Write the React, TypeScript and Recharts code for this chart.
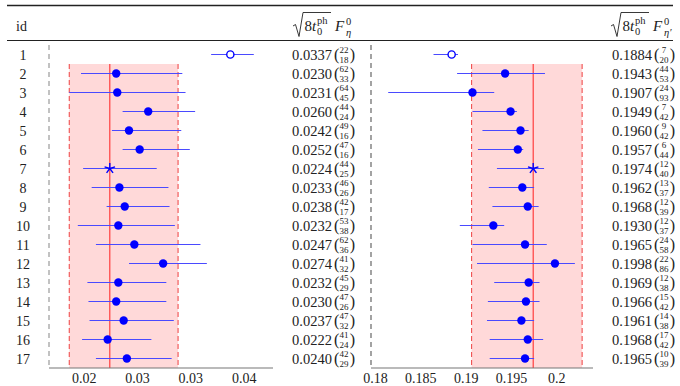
import React from 'react'
import {
  ScatterChart,
  Scatter,
  XAxis,
  YAxis,
  ErrorBar,
  ReferenceArea,
  ReferenceLine,
} from 'recharts'

const FONT = '"Liberation Serif", "Times New Roman", serif'

const ids = [1, 2, 3, 4, 5, 6, 7, 8, 9, 10, 11, 12, 13, 14, 15, 16, 17]

// F_eta^0 column: value and (upper / lower) errors in units of the last digit
const etaVals = [0.0337, 0.023, 0.0231, 0.026, 0.0242, 0.0252, 0.0224, 0.0233, 0.0238, 0.0232, 0.0247, 0.0274, 0.0232, 0.023, 0.0237, 0.0222, 0.024]
const etaUp = [22, 62, 64, 44, 49, 47, 44, 46, 42, 53, 62, 41, 45, 47, 47, 41, 42]
const etaDn = [18, 33, 45, 24, 16, 16, 25, 26, 17, 38, 36, 32, 29, 26, 32, 24, 29]

// F_eta'^0 column
const etapVals = [0.1884, 0.1943, 0.1907, 0.1949, 0.196, 0.1957, 0.1974, 0.1962, 0.1968, 0.193, 0.1965, 0.1998, 0.1969, 0.1966, 0.1961, 0.1968, 0.1965]
const etapUp = [7, 44, 24, 7, 9, 6, 12, 13, 12, 12, 24, 22, 12, 15, 14, 17, 10]
const etapDn = [20, 53, 93, 42, 42, 44, 40, 37, 39, 37, 58, 86, 38, 42, 38, 42, 39]

const openIds = [1]
const starIds = [7]

const etaTicks = [0.02, 0.025, 0.03, 0.035]
const etaTickLabels = ['0.02', '0.03', '0.03', '0.04']
const etapTicks = [0.18, 0.185, 0.19, 0.195, 0.2]
const etapTickLabels = ['0.18', '0.185', '0.19', '0.195', '0.2']

const etaBand = [0.0186, 0.0224, 0.0288]
const etapBand = [0.1906, 0.1974, 0.2028]

const etaDomain = [0.0167, 0.0377]
const etapDomain = [0.1795, 0.204]

function buildRows(vals: number[], up: number[], dn: number[]) {
  return ids.map((id, i) => ({
    id,
    x: vals[i],
    err: [dn[i] * 1e-4, up[i] * 1e-4],
    kind: openIds.includes(id) ? 'open' : starIds.includes(id) ? 'star' : 'dot',
  }))
}

function Marker(props: any) {
  const { cx, cy, payload } = props
  if (cx == null || cy == null) return null
  if (payload.kind === 'open') {
    return <circle cx={cx} cy={cy} r={3.6} fill="#fff" stroke="#0000ff" strokeWidth={1.4} />
  }
  if (payload.kind === 'star') {
    const arms = [0, 1, 2, 3, 4].map(k => {
      const a = (-90 + k * 72) * Math.PI / 180
      return <line key={k} x1={cx} y1={cy} x2={cx + 5.5 * Math.cos(a)} y2={cy + 5.5 * Math.sin(a)} stroke="#0000ff" strokeWidth={1.4} />
    })
    return <g>{arms}</g>
  }
  return <circle cx={cx} cy={cy} r={4.2} fill="#0000ff" />
}

const NoMark = () => <g />

function makeIdTick() {
  return function IdTick(props: any) {
    const { y, payload } = props
    return (
      <text x={23} y={y + 5} textAnchor="middle" fontSize={14} fontFamily={FONT} fill="#222">
        {payload.value}
      </text>
    )
  }
}

function makeValueTick(vals: number[], up: number[], dn: number[], x0: number) {
  return function ValueTick(props: any) {
    const { y, payload } = props
    const i = ids.indexOf(payload.value)
    if (i < 0) return null
    const u = String(up[i])
    const d = String(dn[i])
    const fw = Math.max(u.length, d.length) * 4.6
    const fx = x0 + 47.5 + fw / 2
    return (
      <g fontFamily={FONT} fill="#222">
        <text x={x0} y={y + 5} fontSize={14.5}>{vals[i].toFixed(4)}</text>
        <text x={x0 + 42} y={y + 5} fontSize={16}>(</text>
        <text x={fx} y={y - 1.5} fontSize={9} textAnchor="middle">{u}</text>
        <text x={fx} y={y + 8.5} fontSize={9} textAnchor="middle">{d}</text>
        <text x={x0 + 48.5 + fw} y={y + 5} fontSize={16}>)</text>
      </g>
    )
  }
}

function makeXTick(ticks: number[], labels: string[]) {
  return function XTick(props: any) {
    const { x, payload } = props
    const i = ticks.indexOf(payload.value)
    return (
      <text x={x} y={383} textAnchor="middle" fontSize={14} fontFamily={FONT} fill="#222">
        {i >= 0 ? labels[i] : payload.value}
      </text>
    )
  }
}

interface PanelProps {
  width: number
  leftAxisWidth: number
  rightAxisWidth: number
  vals: number[]
  up: number[]
  dn: number[]
  domain: number[]
  ticks: number[]
  tickLabels: string[]
  band: number[]
  labelX: number
  showIds: boolean
  dashColor: string
}

function Panel(p: PanelProps) {
  const rows = buildRows(p.vals, p.up, p.dn)
  return (
    <ScatterChart width={p.width} height={386} margin={{ top: 45, right: 0, bottom: 0, left: 0 }}>
      <XAxis
        type="number"
        dataKey="x"
        domain={p.domain}
        ticks={p.ticks}
        allowDataOverflow
        height={18}
        tickLine={false}
        tickSize={0}
        axisLine={{ stroke: '#777', strokeWidth: 1.2 }}
        tick={makeXTick(p.ticks, p.tickLabels)}
        interval={0}
      />
      <YAxis
        yAxisId="left"
        type="number"
        dataKey="id"
        domain={[0.5, 17.5]}
        ticks={ids}
        reversed
        interval={0}
        width={p.leftAxisWidth}
        tickLine={false}
        axisLine={{ stroke: p.dashColor, strokeDasharray: '5 4', strokeWidth: 1.2 }}
        tick={p.showIds ? makeIdTick() : false}
      />
      <YAxis
        yAxisId="right"
        orientation="right"
        type="number"
        dataKey="id"
        domain={[0.5, 17.5]}
        ticks={ids}
        reversed
        interval={0}
        width={p.rightAxisWidth}
        tickLine={false}
        axisLine={false}
        tick={makeValueTick(p.vals, p.up, p.dn, p.labelX)}
      />
      <ReferenceArea yAxisId="left" x1={p.band[0]} x2={p.band[2]} y1={1.5} y2={17.5} fill="#ffd9d9" fillOpacity={1} stroke="none" />
      <ReferenceLine
        yAxisId="left"
        segment={[{ x: p.band[0], y: 1.5 }, { x: p.band[0], y: 17.5 }]}
        stroke="#f05050"
        strokeDasharray="5 3"
        strokeWidth={1.1}
      />
      <ReferenceLine
        yAxisId="left"
        segment={[{ x: p.band[2], y: 1.5 }, { x: p.band[2], y: 17.5 }]}
        stroke="#f05050"
        strokeDasharray="5 3"
        strokeWidth={1.1}
      />
      <ReferenceLine
        yAxisId="left"
        segment={[{ x: p.band[1], y: 1.5 }, { x: p.band[1], y: 17.5 }]}
        stroke="#ff3030"
        strokeWidth={1.1}
      />
      <Scatter yAxisId="right" data={rows} shape={NoMark} isAnimationActive={false} />
      <Scatter yAxisId="left" data={rows} shape={Marker} isAnimationActive={false}>
        <ErrorBar dataKey="err" direction="x" width={0} stroke="#4a4aff" strokeWidth={1} isAnimationActive={false} />
      </Scatter>
    </ScatterChart>
  )
}

function Header({ x0, prime }: { x0: number; prime: boolean }) {
  return (
    <g fontFamily={FONT} fill="#222">
      <path
        d={`M ${x0} 26 L ${x0 + 2.5} 24.5 L ${x0 + 6} 36.5 L ${x0 + 10} 12.5 L ${x0 + 38} 12.5`}
        fill="none"
        stroke="#222"
        strokeWidth={0.9}
      />
      <text x={x0 + 11.5} y={31} fontSize={15}>8</text>
      <text x={x0 + 19} y={31} fontSize={15} fontStyle="italic">t</text>
      <text x={x0 + 24} y={24} fontSize={10.5}>ph</text>
      <text x={x0 + 24} y={35} fontSize={10.5}>0</text>
      <text x={x0 + 42} y={31} fontSize={15} fontStyle="italic">F</text>
      <text x={x0 + 53} y={25} fontSize={10.5}>0</text>
      <text x={x0 + 53} y={35.5} fontSize={10.5} fontStyle="italic">{prime ? 'η′' : 'η'}</text>
    </g>
  )
}

export default function App() {
  return (
    <div style={{ position: 'absolute', left: 0, top: 0, width: 680, height: 386, background: '#fff' }}>
      <div style={{ position: 'absolute', left: 0, top: 0 }}>
        <Panel
          width={365}
          leftAxisWidth={49}
          rightAxisWidth={92}
          vals={etaVals}
          up={etaUp}
          dn={etaDn}
          domain={etaDomain}
          ticks={etaTicks}
          tickLabels={etaTickLabels}
          band={etaBand}
          labelX={292}
          showIds
          dashColor="#9a9a9a"
        />
      </div>
      <div style={{ position: 'absolute', left: 340, top: 0 }}>
        <Panel
          width={340}
          leftAxisWidth={31}
          rightAxisWidth={87}
          vals={etapVals}
          up={etapUp}
          dn={etapDn}
          domain={etapDomain}
          ticks={etapTicks}
          tickLabels={etapTickLabels}
          band={etapBand}
          labelX={272}
          showIds={false}
          dashColor="#666"
        />
      </div>
      <svg width={680} height={386} style={{ position: 'absolute', left: 0, top: 0, pointerEvents: 'none' }}>
        <line x1={7} x2={673} y1={5.5} y2={5.5} stroke="#222" strokeWidth={1.5} />
        <line x1={7} x2={673} y1={40.5} y2={40.5} stroke="#222" strokeWidth={1} />
        <text x={16} y={31} fontSize={14} fontFamily={FONT} fill="#222">id</text>
        <Header x0={293} prime={false} />
        <Header x0={611} prime />
      </svg>
    </div>
  )
}
